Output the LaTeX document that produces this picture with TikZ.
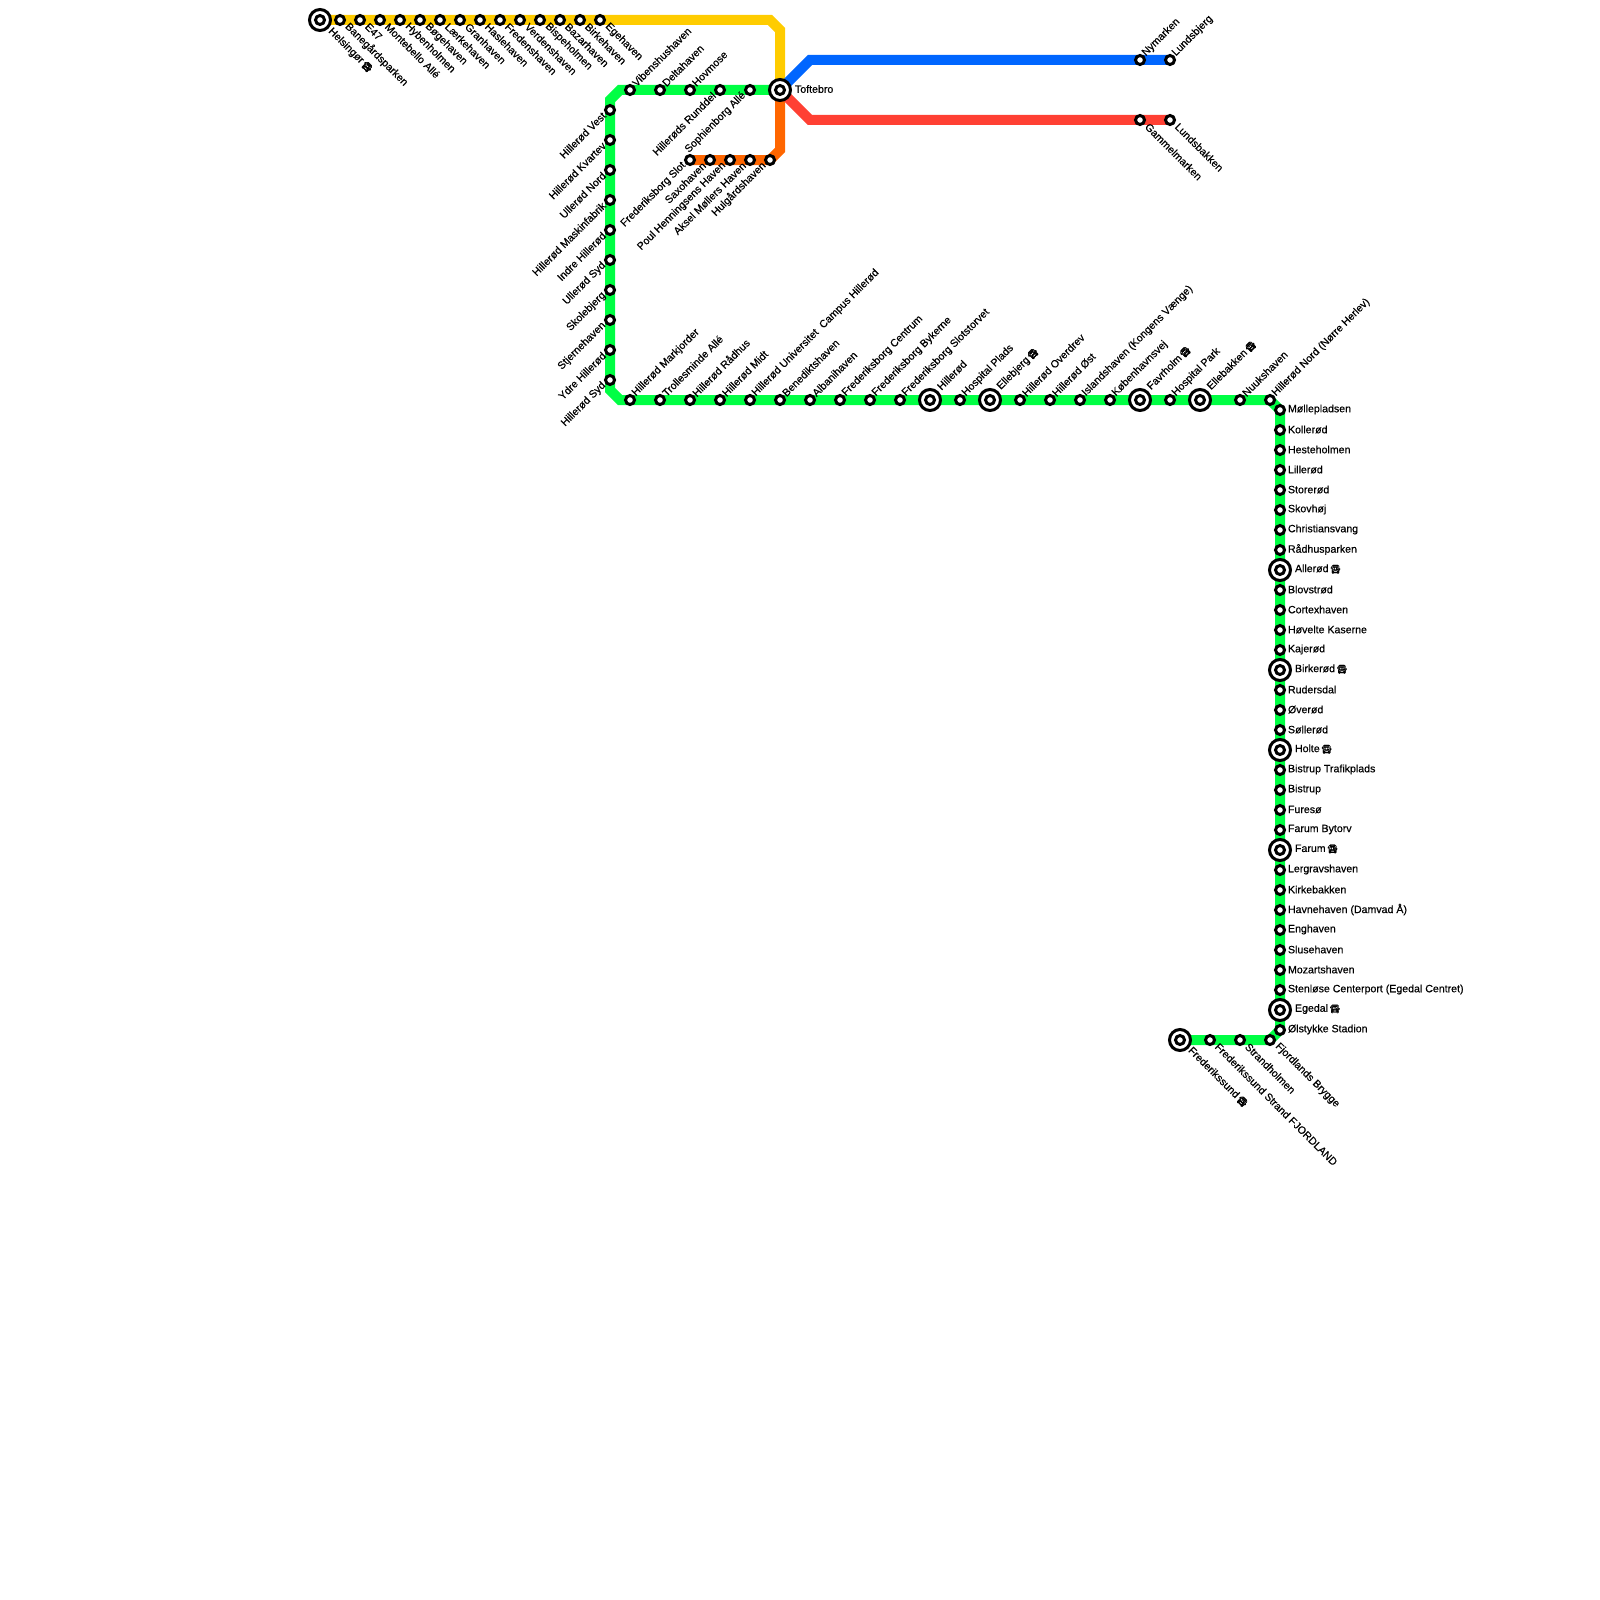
\documentclass[tikz,border=0pt]{standalone}
\usepackage{fontspec}
\setmainfont{Liberation Sans}[FakeBold=0.5]
\newfontfamily\emojifont{Noto Emoji}[FakeBold=0.7]
\usetikzlibrary{backgrounds}
\newcommand{\tr}{\hspace{1.5pt}{\emojifont\fontsize{8.5}{8.5}\selectfont\char"1F68D}}
\definecolor{cgreen}{HTML}{00FF44}
\definecolor{cyellow}{HTML}{FFCC00}
\definecolor{corange}{HTML}{FF6600}
\definecolor{cblue}{HTML}{0066FF}
\definecolor{cred}{HTML}{FF4033}
\tikzset{
  x=1pt,y=-1pt,
  every node/.style={inner sep=0pt,outer sep=0pt},
  stn/.style={circle,draw=black,fill=white,line width=3pt,minimum size=9pt},
  hub/.style={circle,draw=black,fill=white,line width=3pt,minimum size=21pt},
  core/.style={circle,draw=black,fill=white,line width=3pt,minimum size=9pt},
  route/.style={line width=10pt,line join=miter},
  lbl/.style={font=\fontsize{10.6}{10.6}\selectfont,text=black},
  ne/.style={lbl,rotate=45,anchor=west},
  se/.style={lbl,rotate=-45,anchor=west},
  sw/.style={lbl,rotate=45,anchor=east},
  ea/.style={lbl,anchor=west},
}
% name / x / y / label
\newcommand{\stNE}[4]{\node[stn] (#1) at (#2,#3) {}; \node[ne] (l#1) at (#2+4,#3-5.5) {#4};}
\newcommand{\stSE}[4]{\node[stn] (#1) at (#2,#3) {}; \node[se] (l#1) at (#2+7,#3+5) {#4};}
\newcommand{\stSW}[4]{\node[stn] (#1) at (#2,#3) {}; \node[sw] (l#1) at (#2-6,#3+4) {#4};}
\newcommand{\stE}[4]{\node[stn] (#1) at (#2,#3) {}; \node[ea] (l#1) at (#2+8,#3-0.5) {#4};}
\newcommand{\hubmark}[3]{\node[hub] (#1) at (#2,#3) {}; \node[core] (c#1) at (#2,#3) {};}
\begin{document}
\begin{tikzpicture}
\useasboundingbox (0,0) rectangle (1600,1600);
% Top row
\hubmark{helsingor}{320}{20}
\node[se] (lhelsingor) at (330,30) {Helsingør\tr};
\stSE{a1}{340}{20}{Banegårdsparken}
\stSE{a2}{360}{20}{E47}
\stSE{a3}{380}{20}{Montebello Allé}
\stSE{a4}{400}{20}{Hybenholmen}
\stSE{a5}{420}{20}{Bøgehaven}
\stSE{a6}{440}{20}{Lærkehaven}
\stSE{a7}{460}{20}{Granhaven}
\stSE{a8}{480}{20}{Haslehaven}
\stSE{a9}{500}{20}{Fredenshaven}
\stSE{a10}{520}{20}{Verdenshaven}
\stSE{a11}{540}{20}{Bispeholmen}
\stSE{a12}{560}{20}{Bazarhaven}
\stSE{a13}{580}{20}{Birkehaven}
\stSE{a14}{600}{20}{Egehaven}
% Green top
\stNE{b1}{630}{90}{Vibenshushaven}
\stNE{b2}{660}{90}{Deltahaven}
\stNE{b3}{690}{90}{Hovmose}
\stSW{b4}{720}{90}{Hillerøds Runddel}
\stSW{b5}{750}{90}{Sophienborg Allé}
\hubmark{toftebro}{780}{90}
\node[ea] (ltoftebro) at (795,89) {Toftebro};
% Orange
\stSW{o1}{690}{160}{Frederiksborg Slot}
\stSW{o2}{710}{160}{Saxohaven}
\stSW{o3}{730}{160}{Poul Henningsens Haven}
\stSW{o4}{750}{160}{Aksel Møllers Haven}
\stSW{o5}{770}{160}{Hulgårdshaven}
% Blue, red
\stNE{n1}{1140}{60}{Nymarken}
\stNE{n2}{1170}{60}{Lundsbjerg}
\stSE{r1}{1140}{120}{Gammelmarken}
\stSE{r2}{1170}{120}{Lundsbakken}
% Left
\stSW{g1}{610}{110}{Hillerød Vest}
\stSW{g2}{610}{140}{Hillerød Kvartev}
\stSW{g3}{610}{170}{Ullerød Nord}
\stSW{g4}{610}{200}{Hillerød Maskinfabrik}
\stSW{g5}{610}{230}{Indre Hillerød}
\stSW{g6}{610}{260}{Ullerød Syd}
\stSW{g7}{610}{290}{Skolebjerg}
\stSW{g8}{610}{320}{Stjernehaven}
\stSW{g9}{610}{350}{Ydre Hillerød}
\stSW{g10}{610}{380}{Hillerød Syd}
% Bottom
\stNE{h1}{630}{400}{Hillerød Markjorder}
\stNE{h2}{660}{400}{Trollesminde Allé}
\stNE{h3}{690}{400}{Hillerød Rådhus}
\stNE{h4}{720}{400}{Hillerød Midt}
\stNE{h5}{750}{400}{Hillerød Universitet\ \ Campus Hillerød}
\stNE{h6}{780}{400}{Benediktshaven}
\stNE{h7}{810}{400}{Albanihaven}
\stNE{h8}{840}{400}{Frederiksborg Centrum}
\stNE{h9}{870}{400}{Frederiksborg Bykerne}
\stNE{h10}{900}{400}{Frederiksborg Slotstorvet}
\hubmark{hillerod}{930}{400}
\node[ne] (lhillerod) at (939,388) {Hillerød};
\stNE{h11}{960}{400}{Hospital Plads}
\hubmark{ellebjerg}{990}{400}
\node[ne] (lellebjerg) at (999,388) {Ellebjerg\tr};
\stNE{h12}{1020}{400}{Hillerød Overdrev}
\stNE{h13}{1050}{400}{Hillerød Øst}
\stNE{h14}{1080}{400}{Islandshaven (Kongens Vænge)}
\stNE{h15}{1110}{400}{Københavnsvej}
\hubmark{favrholm}{1140}{400}
\node[ne] (lfavrholm) at (1149,388) {Favrholm\tr};
\stNE{h16}{1170}{400}{Hospital Park}
\hubmark{ellebakken}{1200}{400}
\node[ne] (lellebakken) at (1209,388) {Ellebakken\tr};
\stNE{h17}{1240}{400}{Nuukshaven}
\stNE{h18}{1270}{400}{Hillerød Nord (Nørre Herlev)}
% Right column
\stE{v1}{1280}{410}{Møllepladsen}
\stE{v2}{1280}{430}{Kollerød}
\stE{v3}{1280}{450}{Hesteholmen}
\stE{v4}{1280}{470}{Lillerød}
\stE{v5}{1280}{490}{Storerød}
\stE{v6}{1280}{510}{Skovhøj}
\stE{v7}{1280}{530}{Christiansvang}
\stE{v8}{1280}{550}{Rådhusparken}
\hubmark{allerod}{1280}{570}
\node[ea] (lallerod) at (1295,569) {Allerød\tr};
\stE{v9}{1280}{590}{Blovstrød}
\stE{v10}{1280}{610}{Cortexhaven}
\stE{v11}{1280}{630}{Høvelte Kaserne}
\stE{v12}{1280}{650}{Kajerød}
\hubmark{birkerod}{1280}{670}
\node[ea] (lbirkerod) at (1295,669) {Birkerød\tr};
\stE{v13}{1280}{690}{Rudersdal}
\stE{v14}{1280}{710}{Øverød}
\stE{v15}{1280}{730}{Søllerød}
\hubmark{holte}{1280}{750}
\node[ea] (lholte) at (1295,749) {Holte\tr};
\stE{v16}{1280}{770}{Bistrup Trafikplads}
\stE{v17}{1280}{790}{Bistrup}
\stE{v18}{1280}{810}{Furesø}
\stE{v19}{1280}{830}{Farum Bytorv}
\hubmark{farum}{1280}{850}
\node[ea] (lfarum) at (1295,849) {Farum\tr};
\stE{v20}{1280}{870}{Lergravshaven}
\stE{v21}{1280}{890}{Kirkebakken}
\stE{v22}{1280}{910}{Havnehaven (Damvad Å)}
\stE{v23}{1280}{930}{Enghaven}
\stE{v24}{1280}{950}{Slusehaven}
\stE{v25}{1280}{970}{Mozartshaven}
\stE{v26}{1280}{990}{Stenløse Centerport (Egedal Centret)}
\hubmark{egedal}{1280}{1010}
\node[ea] (legedal) at (1295,1009) {Egedal\tr};
\stE{v27}{1280}{1030}{Ølstykke Stadion}
% Bottom branch
\stSE{f1}{1270}{1040}{Fjordlands Brygge}
\stSE{f2}{1240}{1040}{Strandholmen}
\stSE{f3}{1210}{1040}{Frederikssund Strand FJORDLAND}
\hubmark{frederikssund}{1180}{1040}
\node[se] (lfrederikssund) at (1190,1049) {Frederikssund\tr};
% Routes
\coordinate (y1) at (770,20); \coordinate (y2) at (780,30);
\coordinate (o6) at (780,150);
\coordinate (bl) at (810,60); \coordinate (rd) at (810,120);
\coordinate (g1a) at (620,90); \coordinate (g1b) at (610,100);
\coordinate (g2a) at (610,390); \coordinate (g2b) at (620,400);
\coordinate (g3a) at (1270,400); \coordinate (g3b) at (1280,410);
\coordinate (g4a) at (1280,1030); \coordinate (g4b) at (1270,1040);
\begin{scope}[on background layer]
\draw[route,cyellow] (helsingor.center) -- (y1) -- (y2) -- (toftebro.center);
\draw[route,corange] (toftebro.center) -- (o6) -- (o5.center) -- (o1.center);
\draw[route,cblue] (toftebro.center) -- (bl) -- (n2.center);
\draw[route,cred] (toftebro.center) -- (rd) -- (r2.center);
\draw[route,cgreen] (toftebro.center) -- (g1a) -- (g1b) -- (g2a) -- (g2b) -- (g3a) -- (g3b) -- (g4a) -- (g4b) -- (frederikssund.center);
\end{scope}
\end{tikzpicture}
\end{document}
